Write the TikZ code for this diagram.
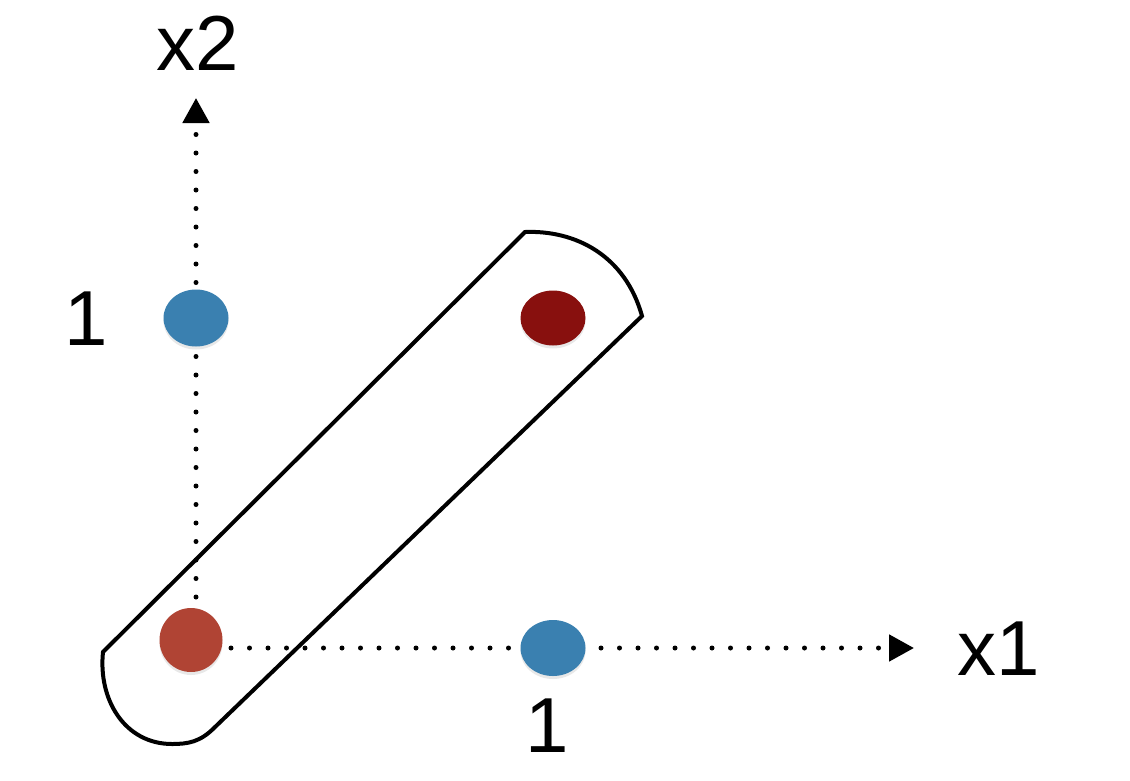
\documentclass[tikz,border=0pt]{standalone}
\usepackage{fontspec}
\setmainfont{Liberation Sans}
\usetikzlibrary{arrows.meta,shapes.geometric,shadows}
\definecolor{dotblue}{RGB}{58,128,176}
\definecolor{darkred}{RGB}{136,16,14}
\definecolor{lightred}{RGB}{176,68,52}
\tikzset{
  dotaxis/.style={line width=5pt, line cap=round, dash pattern=on 0pt off 18.5pt,
    -{Triangle[length=25pt,width=26pt]}},
  blob/.style={ellipse, draw=none, inner sep=0pt,
    drop shadow={opacity=0.18, shadow xshift=0pt, shadow yshift=-3pt}},
  capsule/.style={line width=4pt, line join=miter},
  lbl/.style={font=\fontsize{78}{90}\selectfont, inner sep=0pt, anchor=base}
}
\begin{document}
\begin{tikzpicture}[x=1pt,y=-1pt]
\useasboundingbox (0,0) rectangle (1130,780);
% axes
\coordinate (vstart) at (196,597);
\coordinate (vtip) at (196,98);
\coordinate (hstart) at (231,648);
\coordinate (htip) at (914,648);
\draw[dotaxis] (vstart) -- (vtip);
\draw[dotaxis] (hstart) -- (htip);
% capsule
\coordinate (A) at (525,232);
\coordinate (B) at (642,316);
\coordinate (C) at (214,728);
\coordinate (D) at (103,652);
\coordinate (E) at (172,744);
\draw[capsule] (D) -- (A) .. controls (575,230) and (625,255) .. (B)
  -- (C) .. controls (200,742) and (188,744) .. (E)
  .. controls (125,744) and (98,700) .. (D) -- cycle;
% points
\node[blob, fill=dotblue, minimum width=65pt, minimum height=57pt] (p01) at (196,318) {};
\node[blob, fill=darkred, minimum width=65pt, minimum height=55pt] (p11) at (553,318) {};
\node[blob, fill=lightred, minimum width=63pt, minimum height=64pt] (p00) at (191,640) {};
\node[blob, fill=dotblue, minimum width=65pt, minimum height=56pt] (p10) at (553,648) {};
% labels
\node[lbl] (lx2) at (198,70) {x2};
\node[lbl] (lx1) at (999,675) {x1};
\node[lbl] (l1y) at (86,345) {1};
\node[lbl] (l1x) at (547,752) {1};
\end{tikzpicture}
\end{document}
